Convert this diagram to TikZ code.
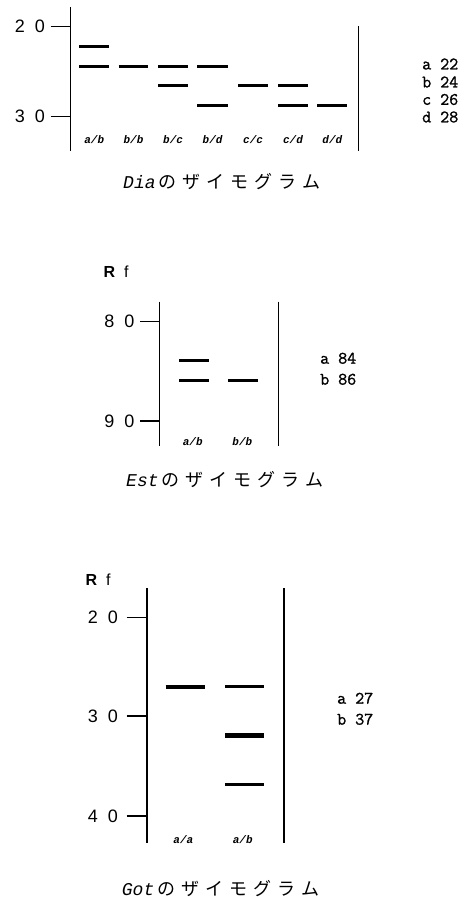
\documentclass[tikz,border=0pt]{standalone}
\usepackage{fontspec}
\setmainfont{Liberation Sans}
\newfontfamily\jpfont{Noto Sans CJK JP}
\newfontfamily\monofont{Liberation Mono}
\newfontfamily\legfont[FakeBold=1.2]{Latin Modern Mono}
\newcommand\twodig[2]{#1\hspace{10pt}#2}
\newcommand\jsp{\hspace{6pt}}
\newcommand\rflabel{{\bfseries R}\hspace{9pt}f}
\newcommand\zymo[1]{{\monofont\itshape\fontsize{18}{18}\selectfont #1}{\jpfont\fontsize{18}{18}\selectfont\hspace{3pt}の\jsp ザ\jsp イ\jsp モ\jsp グ\jsp ラ\jsp ム}}
\begin{document}
\begin{tikzpicture}[x=1pt,y=-1pt,
  axis/.style={line width=1.6pt},
  tickline/.style={line width=1.3pt},
  band/.style={line width=3pt},
  rfnum/.style={font=\fontsize{18}{18}\selectfont, inner sep=0pt, anchor=east},
  rflab/.style={font=\fontsize{16}{16}\selectfont, inner sep=0pt},
  legend/.style={font=\legfont\fontsize{17.5}{17.5}\selectfont, inner sep=0pt, anchor=west},
  geno/.style={font=\monofont\bfseries\itshape\fontsize{11}{11}\selectfont, inner sep=0pt},
  ttl/.style={inner sep=0pt, anchor=west}]
\useasboundingbox (0,0) rectangle (464,897);

% ---------- Panel 1: Dia ----------
\coordinate (d-lt) at (70.3,7);   \coordinate (d-lb) at (70.3,151);
\coordinate (d-rt) at (358.3,26); \coordinate (d-rb) at (358.3,151);
\draw[axis] (d-lt) -- (d-lb);
\draw[axis] (d-rt) -- (d-rb);
\coordinate (d-t20) at (50.7,26.7); \coordinate (d-t30) at (50.7,116.7);
\draw[tickline] (d-t20) -- (70.3,26.7);
\draw[tickline] (d-t30) -- (70.3,116.7);
\node[rfnum] (d-n20) at (45,26.7) {\twodig{2}{0}};
\node[rfnum] (d-n30) at (45,116.7) {\twodig{3}{0}};
% bands
\foreach \xa/\xb/\yy in {79.3/109.3/46, 79.3/109.3/66,
  118.7/148.3/66,
  158/188.3/66, 158/188.3/85.5,
  197.3/228/66, 197.3/228/105,
  238/268.3/85.5,
  278/308/85.5, 278/308/105,
  317.3/347.3/105}
  \draw[band] (\xa,\yy) -- (\xb,\yy);
% genotype labels
\foreach \xx/\lab/\nm in {94.3/a\slash b/1, 133.5/b\slash b/2, 173.1/b\slash c/3, 212.6/b\slash d/4, 253.1/c\slash c/5, 293/c\slash d/6, 332.3/d\slash d/7}
  \node[geno] (d-g\nm) at (\xx,140) {\lab};
% legend
\node[legend] (d-la) at (422,64)    {a 22};
\node[legend] (d-lb2) at (422,82)   {b 24};
\node[legend] (d-lc) at (422,99.5)  {c 26};
\node[legend] (d-ld) at (422,117)   {d 28};
\node[ttl] (d-title) at (123,182) {\zymo{Dia}};

% ---------- Panel 2: Est ----------
\node[rflab] (e-rf) at (116,272) {\rflabel};
\coordinate (e-lt) at (159.3,301.7); \coordinate (e-lb) at (159.3,445.7);
\coordinate (e-rt) at (278.3,301.7); \coordinate (e-rb) at (278.3,445.7);
\draw[axis] (e-lt) -- (e-lb);
\draw[axis] (e-rt) -- (e-rb);
\coordinate (e-t80) at (140,321.7); \coordinate (e-t90) at (140,421);
\draw[tickline] (e-t80) -- (159.3,321.7);
\draw[tickline] (e-t90) -- (159.3,421);
\node[rfnum] (e-n80) at (134.5,321.7) {\twodig{8}{0}};
\node[rfnum] (e-n90) at (134.5,421) {\twodig{9}{0}};
\draw[band] (179,360) -- (209.3,360);
\draw[band] (179,380.7) -- (209.3,380.7);
\draw[band] (228.3,380.7) -- (258.3,380.7);
\node[geno] (e-g1) at (192.7,441.7) {a\slash b};
\node[geno] (e-g2) at (242.3,441.7) {b\slash b};
\node[legend] (e-la) at (320,358.3) {a 84};
\node[legend] (e-lb2) at (320,379.3) {b 86};
\node[ttl] (e-title) at (126,480) {\zymo{Est}};

% ---------- Panel 3: Got ----------
\node[rflab] (g-rf) at (98,580) {\rflabel};
\coordinate (g-lt) at (146.7,588.3); \coordinate (g-lb) at (146.7,843.3);
\coordinate (g-rt) at (284,588.3);   \coordinate (g-rb) at (284,843.3);
\draw[axis] (g-lt) -- (g-lb);
\draw[axis] (g-rt) -- (g-rb);
\foreach \yy/\na/\nb in {617.7/2/0, 716/3/0, 816/4/0}{
  \draw[tickline] (126.7,\yy) -- (146.7,\yy);
  \node[rfnum] (g-n\na) at (118,\yy) {\twodig{\na}{\nb}};
}
\draw[band, line width=4pt] (165.7,686.7) -- (205,686.7);
\draw[band, line width=3.5pt] (225,686.7) -- (264.3,686.7);
\draw[band, line width=4.5pt] (225,735.7) -- (264.3,735.7);
\draw[band, line width=3pt] (225,784.3) -- (264.3,784.3);
\node[geno] (g-g1) at (183.3,840) {a\slash a};
\node[geno] (g-g2) at (242.7,840) {a\slash b};
\node[legend] (g-la) at (337,698.3) {a 27};
\node[legend] (g-lb2) at (337,719.3) {b 37};
\node[ttl] (g-title) at (121.7,888.3) {\zymo{Got}};
\end{tikzpicture}
\end{document}
